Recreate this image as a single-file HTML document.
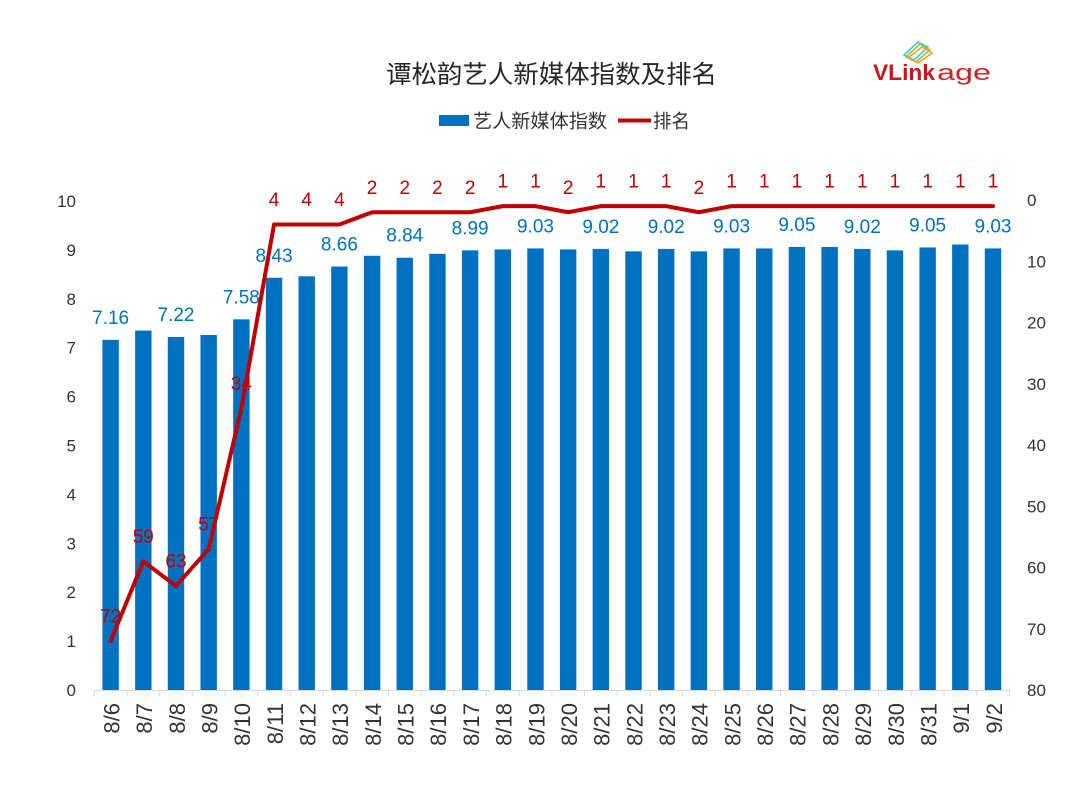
<!DOCTYPE html>
<html>
<head>
<meta charset="utf-8">
<style>
html,body{margin:0;padding:0;background:#fff;}
svg{display:block;}
.ax{font-family:"Liberation Sans",sans-serif;font-size:17px;fill:#333;}
.xl{font-family:"Liberation Sans",sans-serif;font-size:22px;fill:#333;}
.bl{font-family:"Liberation Sans",sans-serif;font-size:19px;fill:#0070c0;text-anchor:middle;}
.rl{font-family:"Liberation Sans",sans-serif;font-size:19px;fill:#c00000;text-anchor:middle;}
.cjk{font-family:"Liberation Sans","Noto Sans CJK SC",sans-serif;}
</style>
</head>
<body>
<svg width="1080" height="789" viewBox="0 0 1080 789" xmlns="http://www.w3.org/2000/svg">
<rect width="1080" height="789" fill="#fff"/>

<!-- Title -->
<text class="cjk" x="386" y="82.8" font-size="25" fill="#262626" textLength="331" lengthAdjust="spacingAndGlyphs">谭松韵艺人新媒体指数及排名</text>

<!-- Logo -->
<g fill="none" stroke-width="1.6">
<polygon points="904,55 918,42 928,47 914,60" stroke="#4ec3e0"/>
<polygon points="906,57 920,44 930,50 916,62" stroke="#8dc63f"/>
<polygon points="908,58 922,47 932,53 918,63" stroke="#f39c34"/>
</g>
<text x="873" y="80" font-family="Liberation Sans,sans-serif" font-size="22" font-weight="bold" fill="#c8161d" textLength="62" lengthAdjust="spacingAndGlyphs">VLink</text>
<text x="937" y="80" font-family="Liberation Sans,sans-serif" font-size="22" fill="#d42027" textLength="54" lengthAdjust="spacingAndGlyphs">age</text>

<!-- Legend -->
<rect x="439" y="115" width="30" height="11" fill="#0070c0"/>
<text class="cjk" x="473" y="127.5" font-size="19" fill="#333" textLength="134" lengthAdjust="spacingAndGlyphs">艺人新媒体指数</text>
<line x1="618" y1="120.5" x2="651" y2="120.5" stroke="#c00000" stroke-width="4"/>
<text class="cjk" x="653" y="127.5" font-size="19" fill="#333" textLength="37" lengthAdjust="spacingAndGlyphs">排名</text>

<!-- Left axis labels -->
<g class="ax" text-anchor="end">
<text x="76" y="696">0</text>
<text x="76" y="647.1">1</text>
<text x="76" y="598.2">2</text>
<text x="76" y="549.3">3</text>
<text x="76" y="500.4">4</text>
<text x="76" y="451.5">5</text>
<text x="76" y="402.6">6</text>
<text x="76" y="353.7">7</text>
<text x="76" y="304.8">8</text>
<text x="76" y="255.9">9</text>
<text x="76" y="207">10</text>
</g>

<!-- Right axis labels -->
<g class="ax" text-anchor="start">
<text x="1027" y="206">0</text>
<text x="1027" y="267.25">10</text>
<text x="1027" y="328.5">20</text>
<text x="1027" y="389.75">30</text>
<text x="1027" y="451">40</text>
<text x="1027" y="512.25">50</text>
<text x="1027" y="573.5">60</text>
<text x="1027" y="634.75">70</text>
<text x="1027" y="696">80</text>
</g>

<!-- Bars -->
<g fill="#0070c0">
<rect x="102.44" y="339.88" width="16.4" height="350.12"/>
<rect x="135.12" y="330.58" width="16.4" height="359.42"/>
<rect x="167.80" y="336.94" width="16.4" height="353.06"/>
<rect x="200.48" y="334.99" width="16.4" height="355.01"/>
<rect x="233.16" y="319.34" width="16.4" height="370.66"/>
<rect x="265.84" y="277.77" width="16.4" height="412.23"/>
<rect x="298.52" y="276.31" width="16.4" height="413.69"/>
<rect x="331.20" y="266.53" width="16.4" height="423.47"/>
<rect x="363.88" y="255.77" width="16.4" height="434.23"/>
<rect x="396.56" y="257.72" width="16.4" height="432.28"/>
<rect x="429.24" y="253.81" width="16.4" height="436.19"/>
<rect x="461.92" y="250.39" width="16.4" height="439.61"/>
<rect x="494.60" y="249.41" width="16.4" height="440.59"/>
<rect x="527.28" y="248.43" width="16.4" height="441.57"/>
<rect x="559.96" y="249.41" width="16.4" height="440.59"/>
<rect x="592.64" y="248.92" width="16.4" height="441.08"/>
<rect x="625.32" y="251.37" width="16.4" height="438.63"/>
<rect x="658.00" y="248.92" width="16.4" height="441.08"/>
<rect x="690.68" y="251.37" width="16.4" height="438.63"/>
<rect x="723.36" y="248.43" width="16.4" height="441.57"/>
<rect x="756.04" y="248.43" width="16.4" height="441.57"/>
<rect x="788.72" y="246.97" width="16.4" height="443.03"/>
<rect x="821.40" y="246.97" width="16.4" height="443.03"/>
<rect x="854.08" y="248.92" width="16.4" height="441.08"/>
<rect x="886.76" y="250.39" width="16.4" height="439.61"/>
<rect x="919.44" y="247.45" width="16.4" height="442.55"/>
<rect x="952.12" y="244.52" width="16.4" height="445.48"/>
<rect x="984.80" y="248.43" width="16.4" height="441.57"/>
</g>

<!-- Axis line and ticks -->
<g stroke="#d9d9d9" stroke-width="1">
<line x1="94.3" y1="690.5" x2="1009.3" y2="690.5"/>
<path d="M94.3 690v6M126.98 690v6M159.66 690v6M192.34 690v6M225.02 690v6M257.7 690v6M290.38 690v6M323.06 690v6M355.74 690v6M388.42 690v6M421.1 690v6M453.78 690v6M486.46 690v6M519.14 690v6M551.82 690v6M584.5 690v6M617.18 690v6M649.86 690v6M682.54 690v6M715.22 690v6M747.9 690v6M780.58 690v6M813.26 690v6M845.94 690v6M878.62 690v6M911.3 690v6M943.98 690v6M976.66 690v6M1009.3 690v6"/>
</g>

<!-- X labels -->
<g class="xl" text-anchor="end">
<text transform="translate(119.4,703) rotate(-90)">8/6</text>
<text transform="translate(152.1,703) rotate(-90)">8/7</text>
<text transform="translate(184.8,703) rotate(-90)">8/8</text>
<text transform="translate(217.5,703) rotate(-90)">8/9</text>
<text transform="translate(250.2,703) rotate(-90)">8/10</text>
<text transform="translate(282.8,703) rotate(-90)">8/11</text>
<text transform="translate(315.5,703) rotate(-90)">8/12</text>
<text transform="translate(348.2,703) rotate(-90)">8/13</text>
<text transform="translate(380.9,703) rotate(-90)">8/14</text>
<text transform="translate(413.6,703) rotate(-90)">8/15</text>
<text transform="translate(446.2,703) rotate(-90)">8/16</text>
<text transform="translate(478.9,703) rotate(-90)">8/17</text>
<text transform="translate(511.6,703) rotate(-90)">8/18</text>
<text transform="translate(544.3,703) rotate(-90)">8/19</text>
<text transform="translate(577.0,703) rotate(-90)">8/20</text>
<text transform="translate(609.6,703) rotate(-90)">8/21</text>
<text transform="translate(642.3,703) rotate(-90)">8/22</text>
<text transform="translate(675.0,703) rotate(-90)">8/23</text>
<text transform="translate(707.7,703) rotate(-90)">8/24</text>
<text transform="translate(740.4,703) rotate(-90)">8/25</text>
<text transform="translate(773.0,703) rotate(-90)">8/26</text>
<text transform="translate(805.7,703) rotate(-90)">8/27</text>
<text transform="translate(838.4,703) rotate(-90)">8/28</text>
<text transform="translate(871.1,703) rotate(-90)">8/29</text>
<text transform="translate(903.8,703) rotate(-90)">8/30</text>
<text transform="translate(936.4,703) rotate(-90)">8/31</text>
<text transform="translate(969.1,703) rotate(-90)">9/1</text>
<text transform="translate(1001.8,703) rotate(-90)">9/2</text>
</g>

<!-- Bar value labels -->
<g class="bl">
<text x="110.64" y="323.9">7.16</text>
<text x="176.00" y="320.9">7.22</text>
<text x="241.36" y="303.3">7.58</text>
<text x="274.04" y="261.8">8.43</text>
<text x="339.40" y="250.5">8.66</text>
<text x="404.76" y="241.7">8.84</text>
<text x="470.12" y="234.4">8.99</text>
<text x="535.48" y="232.4">9.03</text>
<text x="600.84" y="232.9">9.02</text>
<text x="666.20" y="232.9">9.02</text>
<text x="731.56" y="232.4">9.03</text>
<text x="796.92" y="231.0">9.05</text>
<text x="862.28" y="232.9">9.02</text>
<text x="927.64" y="231.5">9.05</text>
<text x="993.00" y="232.4">9.03</text>
</g>

<!-- Rank line -->
<polyline fill="none" stroke="#c00000" stroke-width="4" stroke-linejoin="round" stroke-linecap="round"
points="110.64,641 143.32,561.4 176,585.9 208.68,549.1 241.36,408.3 274.04,224.5 306.72,224.5 339.4,224.5 372.08,212.25 404.76,212.25 437.44,212.25 470.12,212.25 502.8,206.1 535.48,206.1 568.16,212.25 600.84,206.1 633.52,206.1 666.2,206.1 698.88,212.25 731.56,206.1 764.24,206.1 796.92,206.1 829.6,206.1 862.28,206.1 894.96,206.1 927.64,206.1 960.32,206.1 993,206.1"/>

<!-- Rank labels -->
<g class="rl">
<text x="110.64" y="622.5">72</text>
<text x="143.32" y="542.9">59</text>
<text x="176.00" y="567.4">63</text>
<text x="208.68" y="530.6">57</text>
<text x="241.36" y="389.8">34</text>
<text x="274.04" y="206">4</text>
<text x="306.72" y="206">4</text>
<text x="339.40" y="206">4</text>
<text x="372.08" y="193.75">2</text>
<text x="404.76" y="193.75">2</text>
<text x="437.44" y="193.75">2</text>
<text x="470.12" y="193.75">2</text>
<text x="502.80" y="187.6">1</text>
<text x="535.48" y="187.6">1</text>
<text x="568.16" y="193.75">2</text>
<text x="600.84" y="187.6">1</text>
<text x="633.52" y="187.6">1</text>
<text x="666.20" y="187.6">1</text>
<text x="698.88" y="193.75">2</text>
<text x="731.56" y="187.6">1</text>
<text x="764.24" y="187.6">1</text>
<text x="796.92" y="187.6">1</text>
<text x="829.60" y="187.6">1</text>
<text x="862.28" y="187.6">1</text>
<text x="894.96" y="187.6">1</text>
<text x="927.64" y="187.6">1</text>
<text x="960.32" y="187.6">1</text>
<text x="993.00" y="187.6">1</text>
</g>
</svg>
</body>
</html>
